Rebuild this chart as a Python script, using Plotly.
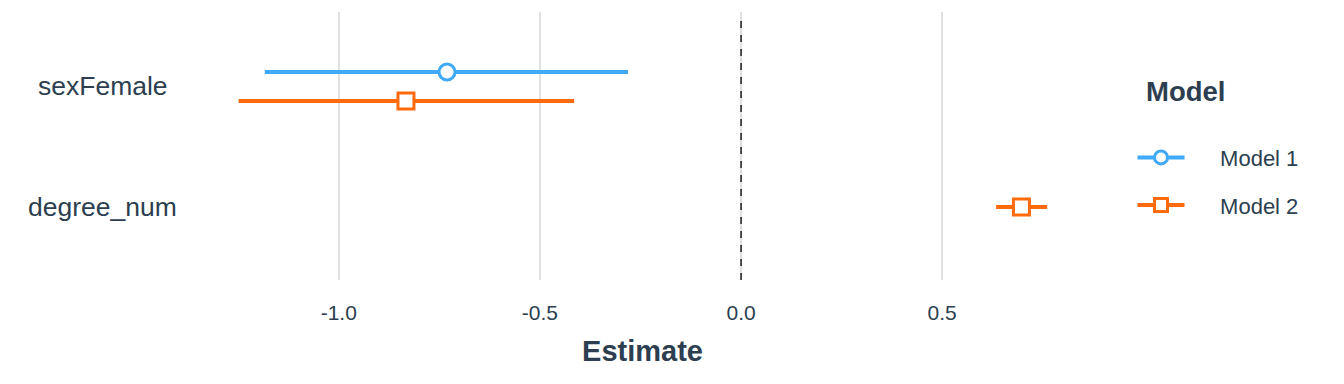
import plotly.graph_objects as go

terms = ["sexFemale", "degree_num"]
term_pos = [2, 1]

models = ["Model 1", "Model 2"]
m1_terms = ["sexFemale"]
m1_est = [-0.731]
m1_lo = [-1.184]
m1_hi = [-0.281]

m2_terms = ["sexFemale", "degree_num"]
m2_est = [-0.833, 0.697]
m2_lo = [-1.249, 0.634]
m2_hi = [-0.415, 0.761]

colors = {"Model 1": "#40A9F8", "Model 2": "#FF6A0D"}
symbols = {"Model 1": "circle", "Model 2": "square"}
text_color = "#2C3E50"
font_family = "Liberation Sans, Arial, sans-serif"
dodge = 0.12

pos_map = dict(zip(terms, term_pos))
series = [("Model 1", m1_terms, m1_est, m1_lo, m1_hi), ("Model 2", m2_terms, m2_est, m2_lo, m2_hi)]

# dodge: models present per term
present = {t: [s[0] for s in series if t in s[1]] for t in terms}


def y_of(term, model):
    ms = present[term]
    if len(ms) == 1:
        return pos_map[term]
    i = ms.index(model)
    return pos_map[term] + dodge * (1 - 2 * i / (len(ms) - 1))


fig = go.Figure()

for name, tt, est, lo, hi in series:
    ys = [y_of(t, name) for t in tt]
    xs, yl = [], []
    for y, a, b in zip(ys, lo, hi):
        xs += [a, b, None]
        yl += [y, y, None]
    fig.add_trace(go.Scatter(x=xs, y=yl, mode="lines",
                             line=dict(color=colors[name], width=4),
                             showlegend=False, hoverinfo="skip"))
    fig.add_trace(go.Scatter(x=est, y=ys, mode="markers",
                             marker=dict(symbol=symbols[name], size=16, color="white",
                                         line=dict(color=colors[name], width=3)),
                             showlegend=False, name=name))
    fig.add_trace(go.Scatter(x=[None], y=[None], mode="lines+markers",
                             name="\u00a0" * 5 + name, legendgroup=name,
                             line=dict(color=colors[name], width=4),
                             marker=dict(symbol=symbols[name], size=13, color="white",
                                         line=dict(color=colors[name], width=3))))

fig.add_shape(type="line", xref="x", yref="paper", x0=0, x1=0, y0=0, y1=0.99,
              line=dict(color="black", width=1.3, dash="7px,7px"))

for t, p in zip(terms, term_pos):
    fig.add_annotation(x=-0.1074, xref="paper", y=p, yref="y", text=t, showarrow=False,
                       xanchor="center", yanchor="middle",
                       font=dict(size=26.5, color=text_color, family=font_family))

fig.add_annotation(x=1.064, xref="paper", y=0.7015, yref="paper", text="<b>Model</b>",
                   showarrow=False, xanchor="left", yanchor="middle",
                   font=dict(size=27.5, color=text_color, family=font_family))

fig.update_layout(
    width=1336, height=376,
    margin=dict(l=190, r=257, t=4, b=104),
    plot_bgcolor="white", paper_bgcolor="white",
    font=dict(family=font_family, color=text_color),
    xaxis=dict(range=[-1.35, 0.86], tickvals=[-1.0, -0.5, 0.0, 0.5],
               ticktext=["-1.0", "-0.5", "0.0", "0.5"],
               showgrid=True, gridcolor="#E0E0E0", gridwidth=2, zeroline=False,
               showline=False, ticks="outside", ticklen=14, tickcolor="rgba(0,0,0,0)",
               tickfont=dict(size=21, color=text_color),
               title=dict(text="<b>Estimate</b>", font=dict(size=29, color=text_color), standoff=17)),
    yaxis=dict(range=[0.394, 2.618], showgrid=False, zeroline=False, showline=False,
               showticklabels=False, ticks=""),
    legend=dict(x=1.0512, y=0.535, xanchor="left", yanchor="top",
                font=dict(size=22, color=text_color), tracegroupgap=16,
                itemwidth=47, bgcolor="rgba(0,0,0,0)"),
    showlegend=True,
)

fig.write_html("out.html")
